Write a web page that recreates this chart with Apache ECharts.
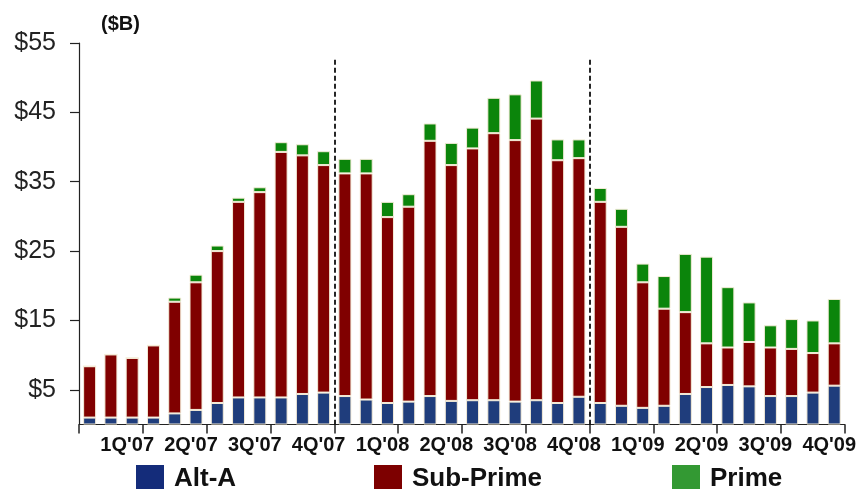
<!DOCTYPE html>
<html>
<head>
<meta charset="utf-8">
<script src="https://cdn.jsdelivr.net/npm/echarts@6/dist/echarts.min.js"></script>
<style>
  html, body { margin: 0; padding: 0; background: #ffffff; }
  #chart { width: 859px; height: 489px; }
</style>
</head>
<body>
<div id="chart"></div>
<script>
// ---- data ----
const months = [
  "Jan'07","Feb'07","Mar'07","Apr'07","May'07","Jun'07","Jul'07","Aug'07","Sep'07","Oct'07","Nov'07","Dec'07",
  "Jan'08","Feb'08","Mar'08","Apr'08","May'08","Jun'08","Jul'08","Aug'08","Sep'08","Oct'08","Nov'08","Dec'08",
  "Jan'09","Feb'09","Mar'09","Apr'09","May'09","Jun'09","Jul'09","Aug'09","Sep'09","Oct'09","Nov'09","Dec'09"
];
const quarterLabels = ["1Q'07","2Q'07","3Q'07","4Q'07","1Q'08","2Q'08","3Q'08","4Q'08","1Q'09","2Q'09","3Q'09","4Q'09"];
const altA = [1.0,1.0,1.0,1.0,1.6,2.1, 3.1,3.9,3.9,3.9,4.4,4.6,
              4.1,3.6,3.1,3.3,4.1,3.4, 3.5,3.5,3.3,3.5,3.1,4.0,
              3.1,2.7,2.4,2.7,4.4,5.4, 5.7,5.5,4.1,4.1,4.6,5.6];
const subPrime = [7.4,9.1,8.6,10.4,16.1,18.4, 21.9,28.2,29.6,35.4,34.4,32.8,
                  32.1,32.6,26.8,28.1,36.8,34.0, 36.3,38.5,37.7,40.6,35.0,34.4,
                  29.0,25.8,18.1,14.0,11.8,6.3, 5.4,6.4,7.0,6.8,5.7,6.1];
const prime = [0,0,0,0,0.6,1.1, 0.8,0.6,0.7,1.4,1.6,2.0,
               2.1,2.1,2.2,1.8,2.5,3.2, 3.0,5.1,6.6,5.5,3.0,2.7,
               2.0,2.6,2.7,4.7,8.4,12.5, 8.7,5.7,3.2,4.3,4.7,6.4];
const yTicks = [5,15,25,35,45,55];
const yearDividers = [12, 24];   // boundaries (in months) between years

// ---- chart ----
const FONT = "'Liberation Sans', Arial, sans-serif";
const chart = echarts.init(document.getElementById('chart'), null, { renderer: 'canvas' });
const barStyle = (c) => ({ color: c, borderColor: '#f4ecd8', borderWidth: 1 });

const legendBase = {
  orient: 'horizontal', top: 460, itemWidth: 28, itemHeight: 28, icon: 'rect',
  selectedMode: false,
  textStyle: { fontFamily: FONT, fontSize: 26, fontWeight: 'bold', color: '#111', padding: [0,0,0,5] }
};

chart.setOption({
  animation: false,
  backgroundColor: '#ffffff',
  title: {
    text: '($B)', left: 96, top: 9,
    textStyle: { fontFamily: FONT, fontSize: 20, fontWeight: 'bold', color: '#111' }
  },
  legend: [
    Object.assign({}, legendBase, { left: 131, data: [{ name: 'Alt-A', itemStyle: { color: '#142c7a', borderWidth: 0 } }] }),
    Object.assign({}, legendBase, { left: 369, data: [{ name: 'Sub-Prime', itemStyle: { color: '#7d0000', borderWidth: 0 } }] }),
    Object.assign({}, legendBase, { left: 667, data: [{ name: 'Prime', itemStyle: { color: '#339933', borderWidth: 0 } }] })
  ],
  grid: { left: 79, right: 10, top: 43, bottom: 64.5, containLabel: false },
  xAxis: [
    {
      type: 'category', data: months, boundaryGap: true,
      axisLine: { show: true, lineStyle: { color: '#222', width: 1.2 } },
      axisTick: { show: true, interval: 2, alignWithLabel: false, length: 9, lineStyle: { color: '#222', width: 1.5 } },
      axisLabel: {
        interval: (i) => i % 3 === 2,
        formatter: (v, i) => quarterLabels[Math.floor(i / 3)],
        fontFamily: FONT, fontSize: 20, fontWeight: 'bold', color: '#111',
        margin: 11, padding: [0, 10, 0, 0]
      },
      splitLine: { show: false }
    },
    { type: 'value', min: 0, max: months.length, show: false }
  ],
  yAxis: {
    type: 'value', min: 0, max: 55,
    axisLine: { show: true, lineStyle: { color: '#222', width: 1.2 } },
    axisTick: { show: true, length: 9, customValues: yTicks, lineStyle: { color: '#222', width: 1.2 } },
    axisLabel: {
      customValues: yTicks, formatter: (v) => '$' + v,
      fontFamily: FONT, fontSize: 25, color: '#222', margin: 23
    },
    splitLine: { show: false }
  },
  series: [
    { name: 'Alt-A', type: 'bar', stack: 'total', data: altA, barWidth: 13, itemStyle: barStyle('#1f3d7c') },
    { name: 'Sub-Prime', type: 'bar', stack: 'total', data: subPrime, barWidth: 13, itemStyle: barStyle('#800000') },
    { name: 'Prime', type: 'bar', stack: 'total', data: prime, barWidth: 13, itemStyle: barStyle('#0b850b') },
    {
      name: 'dividers', type: 'line', xAxisIndex: 1, data: [], silent: true,
      markLine: {
        silent: true, symbol: ['none', 'none'], label: { show: false },
        lineStyle: { color: '#000', width: 1.7, type: [5, 3] },
        data: yearDividers.map((m) => [{ coord: [m, 52.6] }, { coord: [m, 0] }])
      }
    }
  ]
});
</script>
</body>
</html>
